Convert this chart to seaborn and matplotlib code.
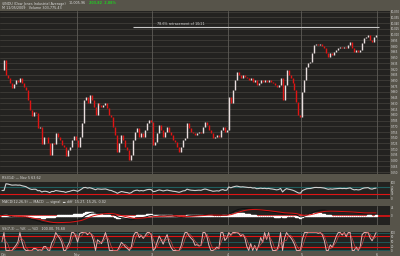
import numpy as np
import pandas as pd
import matplotlib
matplotlib.use("Agg")
import matplotlib.pyplot as plt
import seaborn as sns

# ---------------- data (10-minute closes) ----------------
oct30 = [9917, 9944, 9904, 9896, 9883, 9870, 9881, 9891, 9886, 9896, 9883, 9873, 9865,
         9839, 9813, 9797, 9807, 9805, 9765, 9768, 9724, 9742, 9742, 9726, 9695, 9726,
         9724, 9752, 9742, 9734, 9721, 9716, 9692, 9708, 9716, 9734, 9744, 9734]
nov02 = [9716, 9742, 9779, 9839, 9847, 9831, 9852, 9839, 9820, 9800, 9831, 9826, 9820,
         9826, 9831, 9818, 9800, 9794, 9768, 9747, 9703, 9726, 9747, 9734, 9716, 9708,
         9682, 9695, 9734, 9755, 9765, 9742, 9752, 9742, 9760, 9779, 9786, 9781]
nov03 = [9721, 9729, 9752, 9773, 9760, 9742, 9755, 9768, 9755, 9747, 9734, 9729, 9716,
         9703, 9716, 9734, 9739, 9779, 9765, 9755, 9752, 9747, 9752, 9755, 9752, 9768,
         9781, 9773, 9760, 9752, 9739, 9742, 9747, 9742, 9760, 9768, 9755, 9760]
nov04 = [9847, 9831, 9865, 9891, 9912, 9904, 9896, 9904, 9899, 9896, 9891, 9896, 9886,
         9891, 9878, 9883, 9891, 9886, 9891, 9886, 9891, 9886, 9883, 9878, 9873, 9878,
         9896, 9839, 9878, 9917, 9904, 9896, 9883, 9865, 9834, 9800, 9794]
nov05 = [9860, 9891, 9925, 9936, 9938, 9962, 9983, 9986, 9983, 9986, 9980, 9975, 9962,
         9951, 9962, 9957, 9965, 9970, 9975, 9978, 9975, 9978, 9975, 9983, 9991, 9975,
         9965, 9970, 9965, 9970, 9988, 10001, 10004, 10009, 9996, 9991, 10004, 10009]
day_labels = ["Oct", "Nov", "3", "4", "5", "6"]
price_ticks = list(range(9650, 10071, 15))
retrace_level = 10030
retrace_label = "78.6% retracement of 10/21"
header_name = "$INDU (Dow Jones Industrial Average)"
header_close = "10,005.96"
header_change = "203.82  2.08%"
header_line2 = "M 11/05/2009   Volume 303,775.43"
rsi_levels = [70, 30]
stoch_levels = [80, 20]

# ---------------- derived ----------------
days = [oct30, nov02, nov03, nov04, nov05]
close = pd.Series(np.concatenate(days).astype(float))
opens = close.shift(1).fillna(close.iloc[0])
idx = np.arange(len(close))
up = (close >= opens).values
starts = np.cumsum([0] + [len(d) for d in days])
vlines_x = [s - 0.5 for s in starts[1:-1]] + [starts[-1] - 0.5]

delta = close.diff()
gain = delta.clip(lower=0).ewm(alpha=1 / 14, adjust=False).mean()
loss = (-delta.clip(upper=0)).ewm(alpha=1 / 14, adjust=False).mean()
rsi = (100 - 100 / (1 + gain / loss.replace(0, np.nan))).fillna(50)

ema12 = close.ewm(span=12, adjust=False).mean()
ema26 = close.ewm(span=26, adjust=False).mean()
macd = ema12 - ema26
signal = macd.ewm(span=9, adjust=False).mean()
hist = macd - signal

lo = close.rolling(7, min_periods=1).min()
hi = close.rolling(7, min_periods=1).max()
pk = (100 * (close - lo) / (hi - lo).replace(0, np.nan)).fillna(50)
pd_ = pk.rolling(3, min_periods=1).mean()

# ---------------- style ----------------
sns.set_style("dark")
BG = "#57544a"
PANEL = "#232220"
HGRID = "#3f3d39"
VGRID = "#5e5c57"
TXT = "#d8d8d8"
RED = "#e01414"
UPC = "#e8dede"
TEAL = "#1f5f5f"

W, H = 400, 256
fig = plt.figure(figsize=(4, 2.56), dpi=100, facecolor=BG)


def add_ax(top, bottom):
    ax = fig.add_axes([0, 1 - bottom / H, 390 / W, (bottom - top) / H])
    ax.set_facecolor(PANEL)
    for s in ax.spines.values():
        s.set_visible(False)
    ax.set_xlim(-1, 195)
    ax.set_xticks([])
    ax.yaxis.tick_right()
    ax.tick_params(axis="y", length=0, pad=0.6, labelsize=1.9, labelcolor=TXT)
    ax.grid(False)
    for v in vlines_x:
        ax.axvline(v, color=VGRID, lw=0.6, zorder=1)
    return ax


# main price panel
ax = add_ax(11, 174)
ax.set_ylim(9645, 10072)
for t in price_ticks:
    ax.axhline(t, color=HGRID, lw=0.6, zorder=0)
ax.set_yticks(price_ticks)
ax.set_yticklabels([f"{t:,}" for t in price_ticks])
ax.vlines(idx[up], opens[up], close[up], color=UPC, lw=1.0, zorder=3)
ax.vlines(idx[~up], opens[~up], close[~up], color=RED, lw=1.0, zorder=3)
ax.hlines(retrace_level, 66, vlines_x[-1] + 1, color="#c8c8c8", lw=0.8, zorder=2)
ax.text(90, retrace_level + 3, retrace_label, color=TXT, fontsize=2.4, va="bottom", ha="center")

# RSI
ax_r = add_ax(182, 199)
ax_r.set_ylim(0, 100)
ax_r.axhline(rsi_levels[0], color=TEAL, lw=0.8, zorder=1)
ax_r.axhline(rsi_levels[1], color=RED, lw=0.8, zorder=1)
sns.lineplot(x=idx, y=rsi.values, ax=ax_r, color="#cfcfcf", lw=0.8, zorder=3)
ax_r.set_yticks([0, 30, 50, 70, 100])
ax_r.set_ylabel("")

# MACD
ax_m = add_ax(206, 225)
m_abs = max(abs(macd).max(), abs(signal).max()) * 1.15
ax_m.set_ylim(-m_abs, m_abs)
ax_m.axhline(0, color=RED, lw=1.2, zorder=1)
ax_m.bar(idx, hist.values, width=1.0, color="#f0f0f0", zorder=2)
sns.lineplot(x=idx, y=macd.values, ax=ax_m, color="#111111", lw=0.7, zorder=3)
sns.lineplot(x=idx, y=signal.values, ax=ax_m, color=RED, lw=0.7, zorder=4)
ax_m.set_yticks([0, round(m_abs * 0.8)])
ax_m.set_ylabel("")

# Stochastic
ax_s = add_ax(232, 251)
ax_s.set_ylim(-3, 103)
for lv in [100, 50, 0]:
    ax_s.axhline(lv, color=TEAL, lw=0.6, zorder=1)
for lv in stoch_levels:
    ax_s.axhline(lv, color=RED, lw=0.8, zorder=1)
sns.lineplot(x=idx, y=pk.values, ax=ax_s, color="#e8b0b0", lw=0.7, zorder=3)
sns.lineplot(x=idx, y=pd_.values, ax=ax_s, color="#c84848", lw=0.5, zorder=4)
ax_s.set_yticks([0, 20, 50, 80, 100])
ax_s.set_ylabel("")

# bottom day labels
xticks = [1] + list(vlines_x)
for xv, lab in zip(xticks, day_labels):
    ax_s.text(xv, -0.12, lab, transform=ax_s.get_xaxis_transform(), color=TXT,
              fontsize=2.4, ha="center", va="top")

# header and strip texts
renderer = fig.canvas.get_renderer()


def ftxt(x, y, s, c=TXT, **kw):
    t = fig.text(x / W, 1 - y / H, s, color=c, fontsize=2.4, va="center", ha="left", **kw)
    bb = t.get_window_extent(renderer)
    return bb.x1 * W / (fig.get_figwidth() * fig.dpi)


xe = ftxt(2, 3.5, header_name)
xe = ftxt(xe + 3, 3.5, header_close)
ftxt(xe + 3, 3.5, header_change, c="#22cc22", weight="bold")
ftxt(2, 8, header_line2)
ftxt(2, 178, f"RSI(14) \u2014 Nov 5 {rsi.iloc[-1]:.2f}")
ftxt(2, 202.5, f"MACD(12,26,9) \u2014 MACD  \u2014 signal  \u25AC diff  "
               f"{macd.iloc[-1]:.2f}, {signal.iloc[-1]:.2f}, {hist.iloc[-1]:.2f}")
ftxt(2, 228.5, f"SS(7,3) \u2014 %K  \u2014 %D   {pk.iloc[-1]:.2f}, {pd_.iloc[-1]:.2f}")

fig.savefig("out.png", dpi=100, facecolor=BG)
